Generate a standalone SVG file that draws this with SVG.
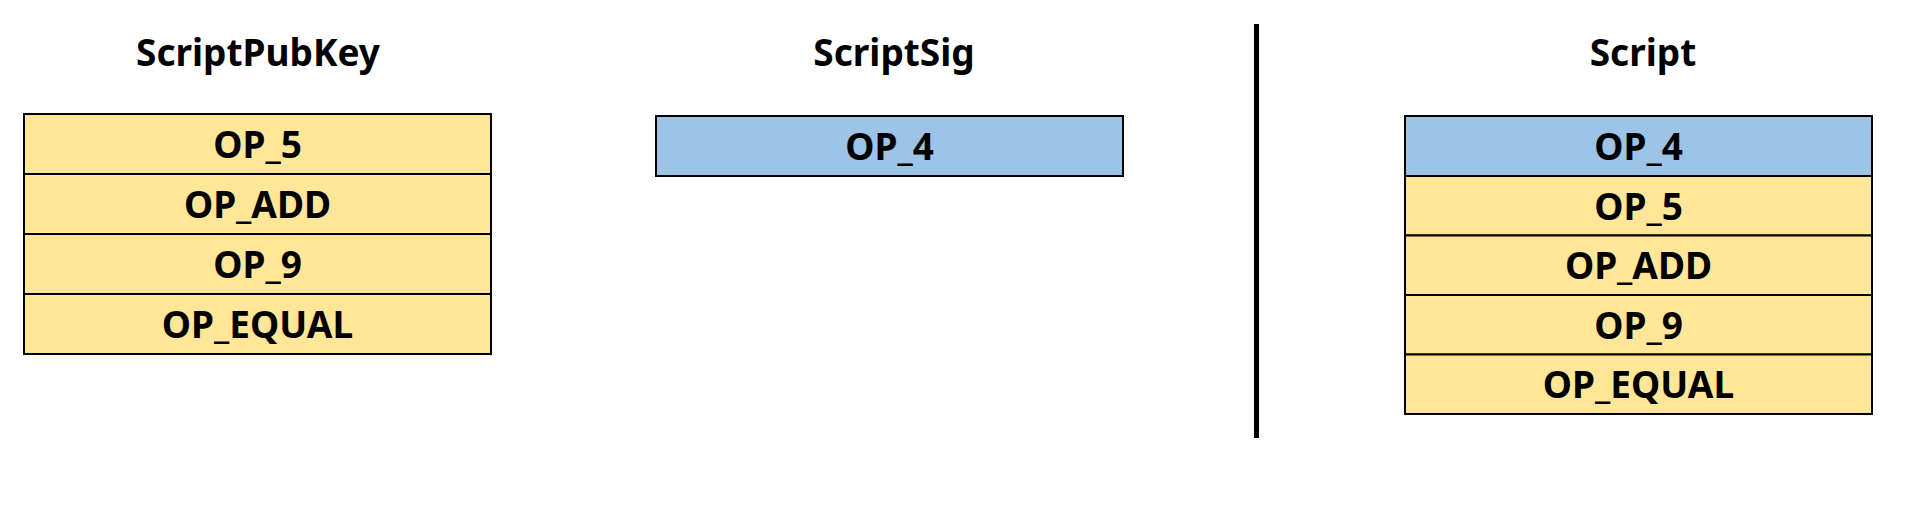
<svg xmlns="http://www.w3.org/2000/svg" width="1905" height="514" viewBox="0 0 1905 514">
<style>
text{font-family:"Noto Sans","Noto Sans CJK KR","Liberation Sans",sans-serif;font-weight:bold;font-size:37px;fill:#000;text-anchor:middle}
.y{fill:#FFE699;stroke:#000;stroke-width:2}
.b{fill:#9DC3E6;stroke:#000;stroke-width:2}
</style>
<rect width="1905" height="514" fill="#fff"/>
<g id="title-pubkey"><text x="258" y="65.5">ScriptPubKey</text></g>
<g id="title-sig"><text x="894" y="65.5">ScriptSig</text></g>
<g id="title-script"><text x="1643" y="65.5">Script</text></g>
<g id="pubkey">
<rect class="y" x="24" y="114" width="467" height="60"/><text x="257.5" y="158">OP_5</text>
<rect class="y" x="24" y="174" width="467" height="60"/><text x="257.5" y="218">OP_ADD</text>
<rect class="y" x="24" y="234" width="467" height="60"/><text x="257.5" y="278">OP_9</text>
<rect class="y" x="24" y="294" width="467" height="60"/><text x="257.5" y="338">OP_EQUAL</text>
</g>
<g id="sig">
<rect class="b" x="656" y="116" width="467" height="60"/><text x="889.5" y="160">OP_4</text>
</g>
<g id="script">
<rect class="b" x="1405" y="116" width="467" height="60"/><text x="1638.5" y="160">OP_4</text>
<rect class="y" x="1405" y="176" width="467" height="59.5"/><text x="1638.5" y="219.5">OP_5</text>
<rect class="y" x="1405" y="235.5" width="467" height="59.5"/><text x="1638.5" y="279">OP_ADD</text>
<rect class="y" x="1405" y="295" width="467" height="59.5"/><text x="1638.5" y="338.5">OP_9</text>
<rect class="y" x="1405" y="354.5" width="467" height="59.5"/><text x="1638.5" y="398">OP_EQUAL</text>
</g>
<g id="connectors">
<line x1="1256.5" y1="24" x2="1256.5" y2="438" stroke="#000" stroke-width="5"/>
</g>
</svg>
